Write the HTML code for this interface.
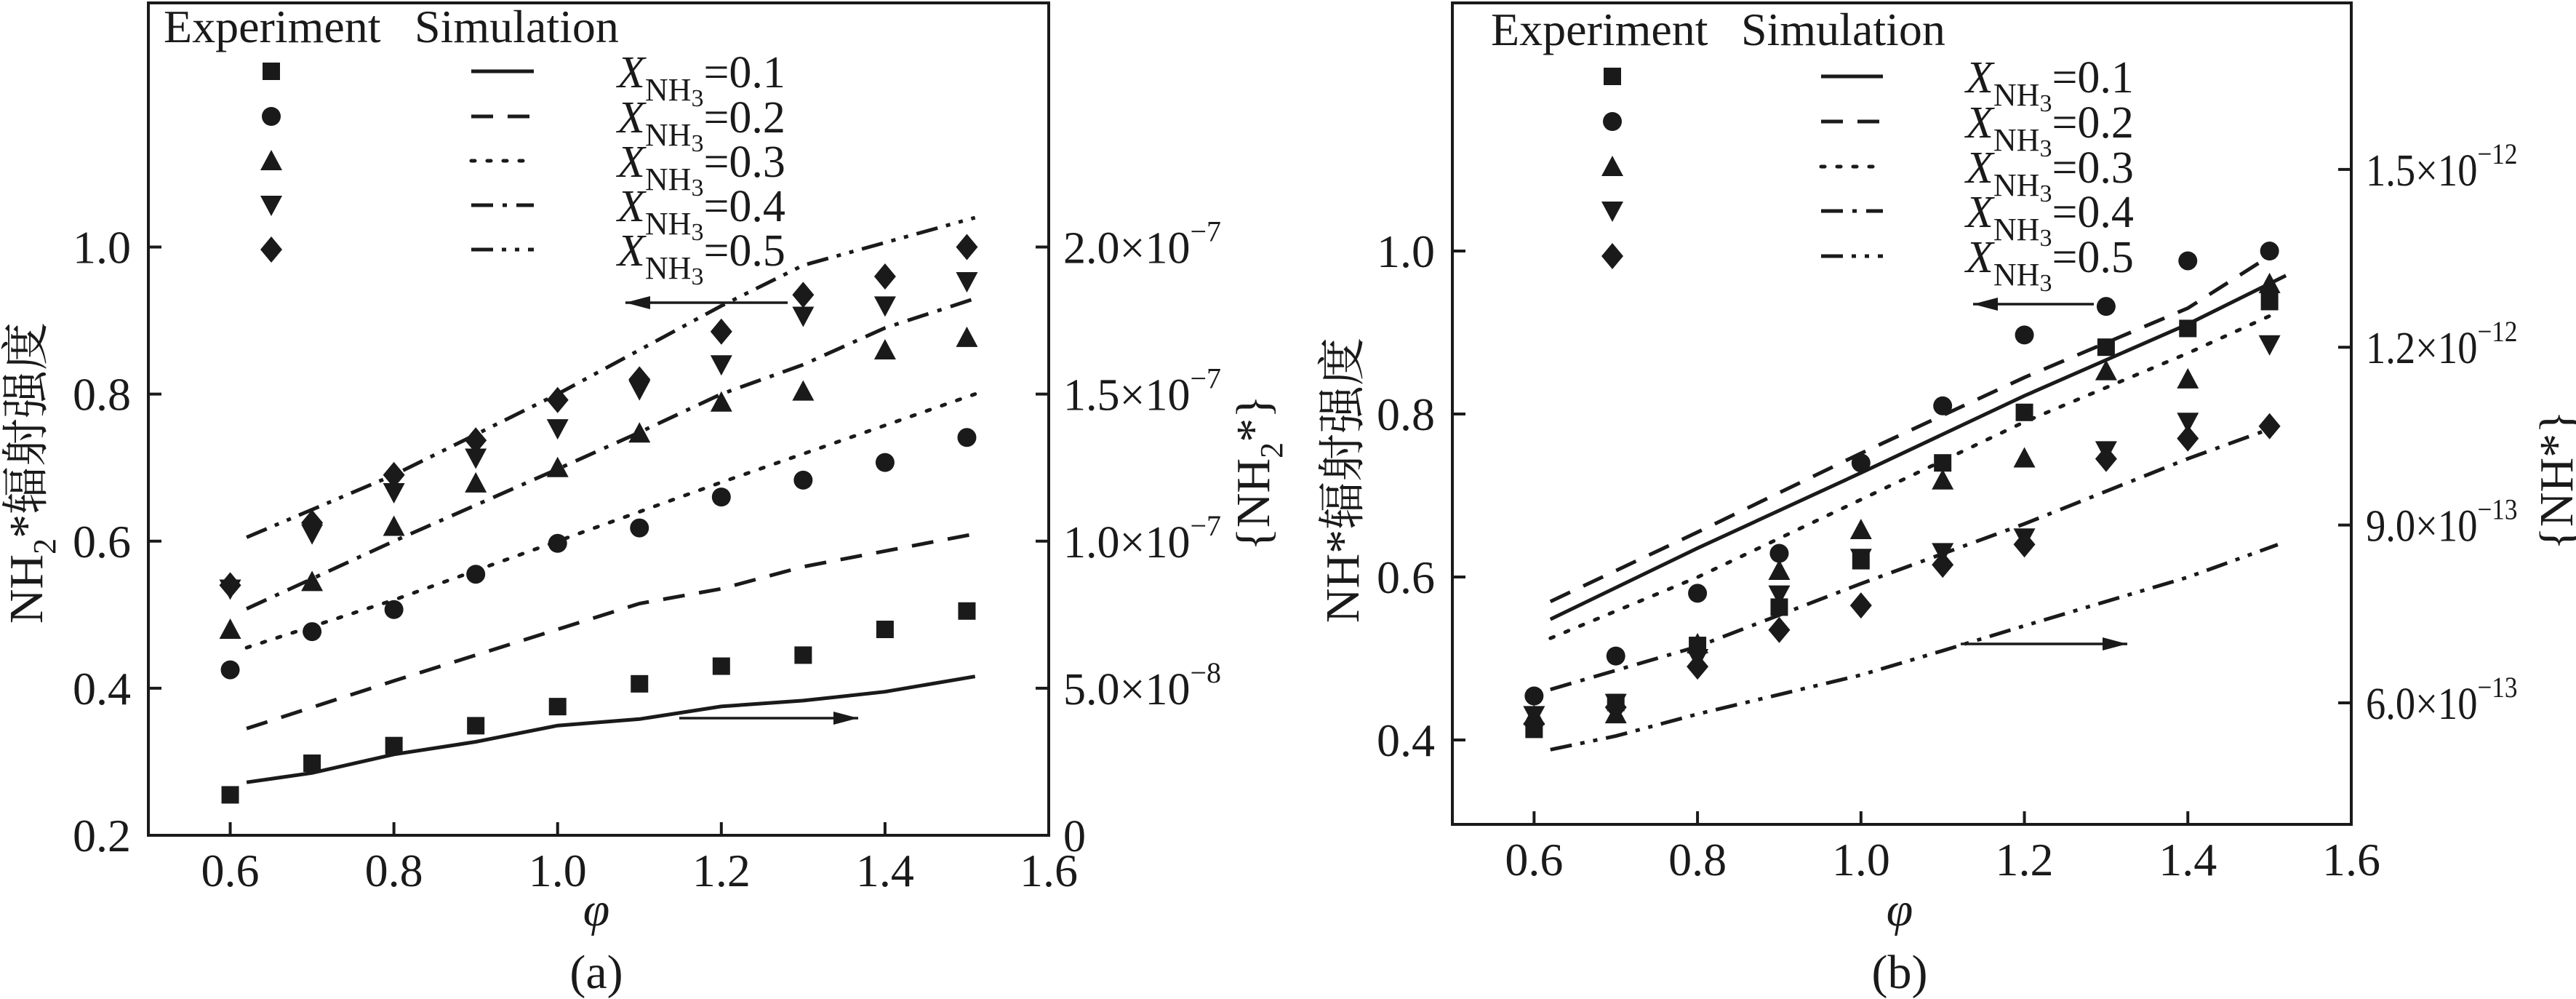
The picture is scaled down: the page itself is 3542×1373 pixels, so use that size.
<!DOCTYPE html>
<html><head><meta charset="utf-8"><style>
html,body{margin:0;padding:0;background:#fff;}
svg{display:block;}
text{font-family:"Liberation Serif","Noto Serif CJK SC",serif;fill:#1a1a1a;}
</style></head><body>
<svg id="fig" width="3542" height="1373" viewBox="0 0 3542 1373" xmlns="http://www.w3.org/2000/svg"></svg>
<script>
// ---- shared data ----
const phi = [0.6,0.7,0.8,0.9,1.0,1.1,1.2,1.3,1.4,1.5];
const seriesLabels = ["0.1","0.2","0.3","0.4","0.5"];
const xTicks = [0.6,0.8,1.0,1.2,1.4,1.6];
// ---- panel a ----
const aSquares  = [0.255,0.298,0.322,0.349,0.375,0.406,0.430,0.445,0.480,0.505];
const aCircles  = [0.425,0.477,0.507,0.555,0.597,0.618,0.660,0.683,0.707,0.741];
const aUpTri    = [0.480,0.545,0.620,0.679,0.700,0.747,0.789,0.804,0.860,0.877];
const aDownTri  = [0.535,0.610,0.666,0.713,0.753,0.806,0.840,0.906,0.920,0.953];
const aDiamonds = [0.540,0.625,0.690,0.737,0.792,0.820,0.885,0.935,0.960,1.000];
const aSim1X = [0.62,0.7,0.8,0.9,1.0,1.1,1.2,1.3,1.4,1.51];
const aSim1Y = [1.8e-8,2.12e-8,2.75e-8,3.18e-8,3.73e-8,3.95e-8,4.38e-8,4.58e-8,4.88e-8,5.4e-8];
const aSim2X = [0.62,0.8,1.0,1.1,1.2,1.3,1.51];
const aSim2Y = [3.63e-8,5.25e-8,7.0e-8,7.88e-8,8.38e-8,9.13e-8,1.025e-7];
const aSim3X = [0.62,0.8,1.0,1.2,1.51];
const aSim3Y = [6.38e-8,8.0e-8,1.0e-7,1.2e-7,1.5e-7];
const aSim4X = [0.62,0.8,1.0,1.1,1.2,1.3,1.4,1.51];
const aSim4Y = [7.7e-8,1.0e-7,1.245e-7,1.37e-7,1.5e-7,1.6e-7,1.725e-7,1.825e-7];
const aSim5X = [0.62,0.8,1.0,1.1,1.2,1.3,1.51];
const aSim5Y = [1.013e-7,1.225e-7,1.5e-7,1.65e-7,1.8e-7,1.938e-7,2.1e-7];
const aLeftTicks = [0.2,0.4,0.6,0.8,1.0];
const aRightTicks = [0,5e-8,1e-7,1.5e-7,2e-7];
const aRightLabels = ["0","5.0×10","1.0×10","1.5×10","2.0×10"];
const aRightExp = ["","−8","−7","−7","−7"];
// ---- panel b ----
const bSquares  = [0.413,0.446,0.516,0.563,0.620,0.740,0.802,0.882,0.905,0.938];
const bCircles  = [0.454,0.503,0.580,0.629,0.740,0.810,0.897,0.932,0.988,1.000];
const bUpTri    = [0.430,0.432,0.518,0.608,0.658,0.719,0.746,0.853,0.843,0.960];
const bDownTri  = [0.430,0.445,0.500,0.578,0.623,0.630,0.648,0.755,0.790,0.885];
const bDiamonds = [0.420,0.440,0.490,0.535,0.565,0.615,0.640,0.745,0.770,0.785];
const bSim1X = [0.62,0.8,1.0,1.2,1.4,1.52];
const bSim1Y = [7.41e-13,8.61e-13,9.88e-13,1.118e-12,1.239e-12,1.321e-12];
const bSim2X = [0.62,0.8,1.0,1.2,1.4,1.51];
const bSim2Y = [7.71e-13,8.88e-13,1.021e-12,1.149e-12,1.266e-12,1.3625e-12];
const bSim3X = [0.62,0.8,1.0,1.2,1.4,1.51];
const bSim3Y = [7.09e-13,8.12e-13,9.43e-13,1.074e-12,1.19e-12,1.259e-12];
const bSim4X = [0.62,0.8,1.0,1.2,1.4,1.51];
const bSim4Y = [6.225e-13,6.95e-13,8.01e-13,9.02e-13,1.012e-12,1.067e-12];
const bSim5X = [0.62,0.7,0.8,1.0,1.1,1.2,1.4,1.51];
const bSim5Y = [5.21e-13,5.44e-13,5.81e-13,6.47e-13,6.88e-13,7.30e-13,8.12e-13,8.67e-13];
const bLeftTicks = [0.4,0.6,0.8,1.0];
const bRightTicks = [6e-13,9e-13,1.2e-12,1.5e-12];
const bRightLabels = ["6.0×10","9.0×10","1.2×10","1.5×10"];
const bRightExp = ["−13","−13","−12","−12"];

const NS="http://www.w3.org/2000/svg";
const svg=document.getElementById('fig');
function mk(tag,attrs,parent){const e=document.createElementNS(NS,tag);for(const k in attrs)e.setAttribute(k,attrs[k]);(parent||svg).appendChild(e);return e;}
const dashes=["none","30 20","5 17","30 13 6 13","30 12 6 12 6 12"];
const caps=["butt","butt","round","butt","butt"];

function marker(g,kind,cx,cy){
  let e;
  if(kind===0){e=mk('rect',{x:cx-12,y:cy-12,width:24,height:24,fill:'#1a1a1a'},g);}
  else if(kind===1){e=mk('circle',{cx:cx,cy:cy,r:13,fill:'#1a1a1a'},g);}
  else if(kind===2){e=mk('polygon',{points:`${cx},${cy-15} ${cx+15},${cy+13} ${cx-15},${cy+13}`,fill:'#1a1a1a'},g);}
  else if(kind===3){e=mk('polygon',{points:`${cx},${cy+15} ${cx+15},${cy-13} ${cx-15},${cy-13}`,fill:'#1a1a1a'},g);}
  else {e=mk('polygon',{points:`${cx},${cy-18} ${cx+15},${cy} ${cx},${cy+18} ${cx-15},${cy}`,fill:'#1a1a1a'},g);}
  return e;
}

function panel(P){
  const g=mk('g',{});
  
  
  const xS=v=>P.L+(v-0.5)/1.1*(P.R-P.L);
  const yL=v=>P.B-(v-P.lMin)/(P.lMax-P.lMin)*(P.B-P.T);
  const yR=v=>P.B-(v-P.rMin)/(P.rMax-P.rMin)*(P.B-P.T);
  const fr=mk('rect',{x:P.L,y:P.T,width:P.R-P.L,height:P.B-P.T,fill:'none',stroke:'#1a1a1a','stroke-width':4},g);
  
  
  xTicks.forEach(t=>{
    const x=xS(t);
    if(t<1.6){const tk=mk('line',{x1:x,y1:P.B,x2:x,y2:P.B-18,stroke:'#1a1a1a','stroke-width':4},g);
    
    }
    const tx=mk('text',{x:x,y:P.B+70,'font-size':64,'text-anchor':'middle'},g);
    
    
    tx.textContent=t.toFixed(1);
  });
  P.lTicks.forEach(t=>{
    const y=yL(t);
    const tk=mk('line',{x1:P.L,y1:y,x2:P.L+18,y2:y,stroke:'#1a1a1a','stroke-width':4},g);
    
    
    const tx=mk('text',{x:P.L-24,y:y+22,'font-size':64,'text-anchor':'end'},g);
    
    
    tx.textContent=t.toFixed(1);
  });
  P.rTicks.forEach((t,i)=>{
    const y=yR(t);
    const tk=mk('line',{x1:P.R,y1:y,x2:P.R-18,y2:y,stroke:'#1a1a1a','stroke-width':4},g);
    
    
    const tx=mk('text',{x:0,y:0,'font-size':62,transform:`translate(${P.R+20},${y+22}) scale(${P.rScale},1)`},g);
    
    
    tx.textContent=P.rLabels[i];
    if(P.rExp[i]){const s=mk('tspan',{dy:-30,'font-size':40},tx);s.textContent=P.rExp[i];}
  });
  P.sims.forEach((s,k)=>{
    const d=s[0].map((xv,i)=>(i?'L':'M')+xS(xv).toFixed(1)+','+yR(s[1][i]).toFixed(1)).join(' ');
    const p=mk('path',{d:d,fill:'none',stroke:'#1a1a1a','stroke-width':5,'stroke-dasharray':dashes[k],'stroke-linecap':caps[k]},g);
    
    
  });
  P.exps.forEach((arr,k)=>{
    arr.forEach((v,i)=>{
      const m=marker(g,k,xS(phi[i]),yL(v));
      
      
    });
  });
  P.arrows.forEach(a=>{
    const ln=mk('line',{x1:a[0],y1:a[2],x2:a[1],y2:a[2],stroke:'#1a1a1a','stroke-width':3.5},g);
    
    
    const dir=a[1]>a[0]?1:-1;
    const hd=mk('polygon',{points:`${a[1]},${a[2]} ${a[1]-dir*34},${a[2]-9} ${a[1]-dir*34},${a[2]+9}`,fill:'#1a1a1a'},g);
    
    
  });
  const lg=mk('g',{},g);
  
  
  const h1=mk('text',{x:P.leg.ex,y:P.leg.hy,'font-size':64},lg);
  
  
  h1.textContent='Experiment';
  const h2=mk('text',{x:P.leg.sx,y:P.leg.hy,'font-size':64},lg);
  
  
  h2.textContent='Simulation';
  P.leg.rows.forEach((ry,k)=>{
    const m=marker(lg,k,P.leg.mx,ry);
    
    
    const l=mk('line',{x1:P.leg.l1,y1:ry,x2:P.leg.l2,y2:ry,stroke:'#1a1a1a','stroke-width':5,'stroke-dasharray':dashes[k],'stroke-linecap':caps[k]},lg);
    
    
    const t=mk('text',{x:P.leg.tx,y:ry+22,'font-size':62},lg);
    
    
    const a=mk('tspan',{'font-style':'italic'},t);a.textContent='X';
    const b=mk('tspan',{dy:18,'font-size':44},t);b.textContent='NH';
    const c=mk('tspan',{dy:8,'font-size':34},t);c.textContent='3';
    const d=mk('tspan',{dy:-26,'font-size':62},t);d.textContent='=0.'+seriesLabels[k].slice(2);
  });
  const lt=mk('text',{x:0,y:0,'font-size':66,'text-anchor':'middle',transform:`translate(${P.ltx},${P.lty}) rotate(-90)`},g);
  
  
  P.ltitle(lt);
  const rt=mk('text',{x:0,y:0,'font-size':66,'text-anchor':'middle',transform:`translate(${P.rtx},${P.lty}) rotate(-90)`},g);
  
  
  P.rtitle(rt);
  const xt=mk('text',{x:P.cx,y:1272,'font-size':66,'font-style':'italic','text-anchor':'middle'},g);
  
  
  xt.textContent='φ';
  const cap=mk('text',{x:P.cx,y:1358,'font-size':66,'text-anchor':'middle'},g);
  
  
  cap.textContent=P.cap;
}

panel({name:'panel-a',L:204,R:1442,T:4,B:1148,lMin:0.2,lMax:1.332,rMin:0,rMax:2.83e-7,rScale:1,
  lTicks:aLeftTicks,rTicks:aRightTicks,rLabels:aRightLabels,rExp:aRightExp,
  sims:[[aSim1X,aSim1Y],[aSim2X,aSim2Y],[aSim3X,aSim3Y],[aSim4X,aSim4Y],[aSim5X,aSim5Y]],
  exps:[aSquares,aCircles,aUpTri,aDownTri,aDiamonds],
  arrows:[[1083,860,416],[934,1180,987]],
  leg:{ex:225,sx:570,hy:58,mx:373,l1:648,l2:734,tx:849,rows:[98,160,221,282,343]},
  ltx:58,lty:650,rtx:1745,cx:820,cap:'(a)',
  ltitle:t=>{const a=mk('tspan',{},t);a.textContent='NH';const b=mk('tspan',{dy:18,'font-size':44},t);b.textContent='2';const c=mk('tspan',{dy:-18},t);c.textContent='*辐射强度';},
  rtitle:t=>{const a=mk('tspan',{},t);a.textContent='{NH';const b=mk('tspan',{dy:18,'font-size':44},t);b.textContent='2';const c=mk('tspan',{dy:-18},t);c.textContent='*}';}
});
panel({name:'panel-b',L:1997,R:3233,T:4,B:1133,lMin:0.2964,lMax:1.3045,rMin:3.949e-13,rMax:1.781e-12,rScale:0.88,
  lTicks:bLeftTicks,rTicks:bRightTicks,rLabels:bRightLabels,rExp:bRightExp,
  sims:[[bSim1X,bSim1Y],[bSim2X,bSim2Y],[bSim3X,bSim3Y],[bSim4X,bSim4Y],[bSim5X,bSim5Y]],
  exps:[bSquares,bCircles,bUpTri,bDownTri,bDiamonds],
  arrows:[[2879,2713,418],[2696,2925,885]],
  leg:{ex:2050,sx:2394,hy:62,mx:2217,l1:2504,l2:2589,tx:2703,rows:[105,167,229,290,352]},
  ltx:1868,lty:660,rtx:3537,cx:2612,cap:'(b)',
  ltitle:t=>{t.textContent='NH*辐射强度';},
  rtitle:t=>{t.textContent='{NH*}';}
});
</script>
</body></html>
